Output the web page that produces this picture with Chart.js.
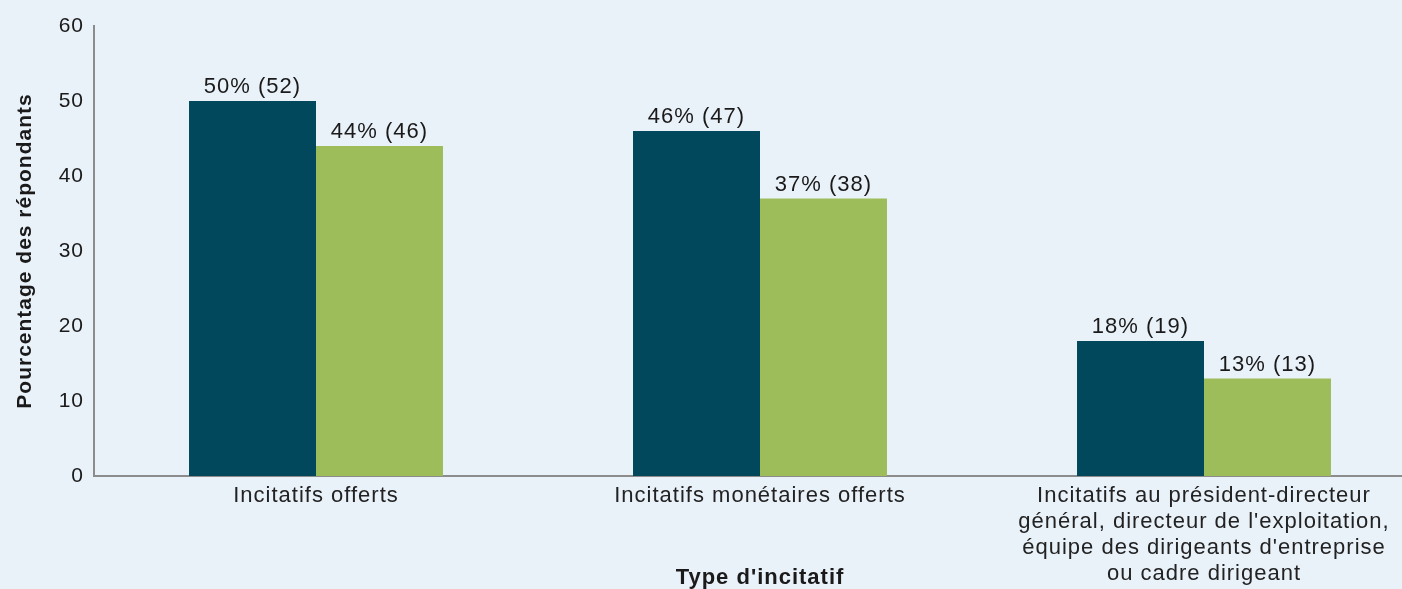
<!DOCTYPE html>
<html lang="fr">
<head>
<meta charset="utf-8">
<script src="https://cdn.jsdelivr.net/npm/chart.js@4/dist/chart.umd.min.js"></script>
<style>
  html, body { margin: 0; padding: 0; background: #e9f1f9; overflow: hidden; }
  #wrap { width: 1426px; height: 589px; position: relative; }
</style>
</head>
<body>
<div id="wrap"><canvas id="chart"></canvas></div>
<script>
// Incentive types (x categories)
const categories = [
  'Incitatifs offerts',
  'Incitatifs monétaires offerts',
  ['Incitatifs au président-directeur', "général, directeur de l'exploitation,", "équipe des dirigeants d'entreprise", 'ou cadre dirigeant']
];
// Percent of respondents and respondent counts, per series
const seriesAPct = [50, 46, 18];
const seriesACount = [52, 47, 19];
const seriesBPct = [44, 37, 13];
const seriesBCount = [46, 38, 13];
const yTicks = [0, 10, 20, 30, 40, 50, 60];

const FONT = "'Liberation Sans', Arial, Helvetica, sans-serif";
const AXIS_GREY = '#8c8c8c';
const INK = '#1a1a1a';

// Slightly open tracking for all canvas text
const tracking = {
  id: 'tracking',
  beforeLayout(chart) { chart.ctx.letterSpacing = '1px'; },
  beforeDraw(chart) { chart.ctx.letterSpacing = '1px'; }
};

// Writes "pct% (count)" above every bar
const valueLabels = {
  id: 'valueLabels',
  afterDatasetsDraw(chart) {
    const ctx = chart.ctx;
    ctx.save();
    ctx.font = '22px ' + FONT;
    ctx.fillStyle = INK;
    ctx.textAlign = 'center';
    ctx.textBaseline = 'bottom';
    chart.data.datasets.forEach((ds, di) => {
      const meta = chart.getDatasetMeta(di);
      meta.data.forEach((bar, i) => {
        ctx.fillText(ds.data[i] + '% (' + ds.counts[i] + ')', bar.x, bar.y - 3);
      });
    });
    ctx.restore();
  }
};

new Chart(document.getElementById('chart'), {
  type: 'bar',
  data: {
    labels: categories,
    datasets: [
      { label: 'A', data: seriesAPct, counts: seriesACount, backgroundColor: '#01485d',
        categoryPercentage: 0.572, barPercentage: 1.0 },
      { label: 'B', data: seriesBPct, counts: seriesBCount, backgroundColor: '#9dbd5b',
        categoryPercentage: 0.572, barPercentage: 1.0 }
    ]
  },
  options: {
    responsive: true,
    maintainAspectRatio: false,
    animation: false,
    layout: { padding: { top: 26, right: 0, left: 0, bottom: 0 } },
    plugins: { legend: { display: false }, tooltip: { enabled: false } },
    scales: {
      x: {
        grid: { display: false, drawTicks: false },
        border: { display: true, color: AXIS_GREY, width: 2 },
        ticks: { color: '#222', font: { family: FONT, size: 22, lineHeight: 1.18 }, padding: 7, maxRotation: 0, autoSkip: false },
        title: { display: true, text: "Type d'incitatif", color: INK,
                 font: { family: FONT, size: 22, weight: 'bold', lineHeight: 1.0 }, padding: { top: 0, bottom: 0 } },
        afterFit(scale) { scale.height = 113; }
      },
      y: {
        min: 0, max: 60,
        afterBuildTicks(scale) { scale.ticks = yTicks.map(v => ({ value: v })); },
        grid: { display: false, drawTicks: false },
        border: { display: true, color: AXIS_GREY, width: 2 },
        ticks: { color: INK, font: { family: FONT, size: 21 }, padding: 10 },
        title: { display: true, text: 'Pourcentage des répondants', color: INK,
                 font: { family: FONT, size: 21, weight: 'bold' }, padding: { top: 13, bottom: 0 } },
        afterFit(scale) { scale.width = 94; }
      }
    }
  },
  plugins: [tracking, valueLabels]
});
</script>
</body>
</html>
